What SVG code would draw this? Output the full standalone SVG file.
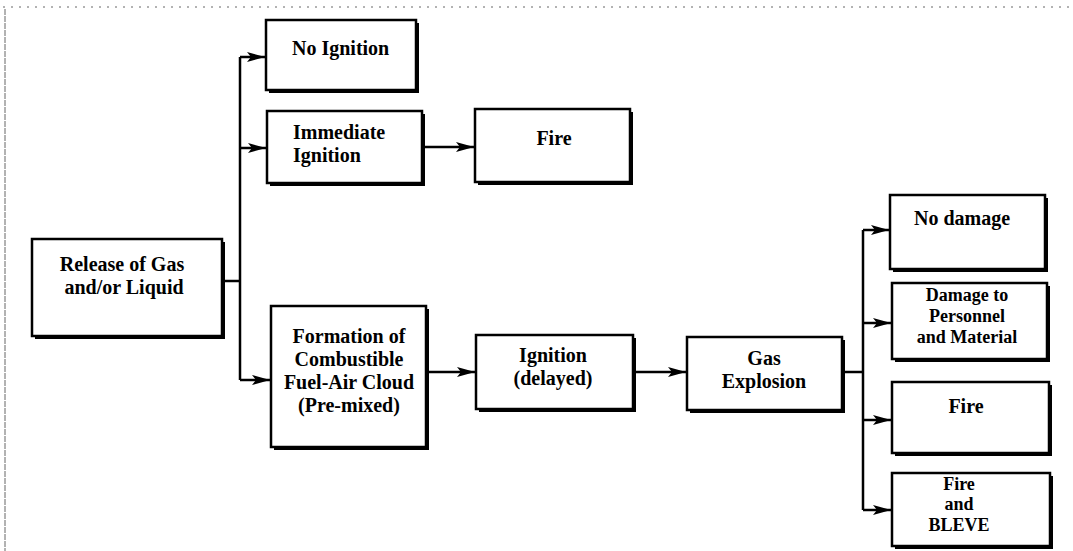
<svg xmlns="http://www.w3.org/2000/svg" width="1073" height="551" viewBox="0 0 1073 551">
<style>
.box{fill:#fff;stroke:#000;stroke-width:2.5}
.sh{fill:#000}
.t{font-family:"Liberation Serif","Times New Roman",serif;font-weight:bold;font-size:20px;fill:#000}
.s{font-size:18px}
.c{text-anchor:middle}
.ln{fill:none;stroke:#000;stroke-width:2.5}
.frame{fill:none;stroke:#666;stroke-width:1}
</style>
<defs>
<marker id="ah" markerUnits="userSpaceOnUse" markerWidth="20" markerHeight="14" refX="18" refY="7" orient="auto">
<path d="M0,2 L18,7 L0,12 L4,7 Z" fill="#000"/>
</marker>
</defs>
<rect width="1073" height="551" fill="#fff"/>
<g id="frame">
<line class="frame" x1="5" y1="9" x2="5" y2="551" stroke-dasharray="6 1"/>
<line class="frame" x1="3" y1="7" x2="1073" y2="7" stroke-dasharray="2 6"/>
</g>
<g id="connectors">
<path class="ln" d="M222,281 H240"/>
<path class="ln" d="M240,57 V380"/>
<path class="ln" d="M240,57 H265" marker-end="url(#ah)"/>
<path class="ln" d="M240,148 H266" marker-end="url(#ah)"/>
<path class="ln" d="M240,380 H270" marker-end="url(#ah)"/>
<path class="ln" d="M422,147 H474" marker-end="url(#ah)"/>
<path class="ln" d="M426,372 H475" marker-end="url(#ah)"/>
<path class="ln" d="M633,372 H686" marker-end="url(#ah)"/>
<path class="ln" d="M842,372 H863"/>
<path class="ln" d="M863,230 V510"/>
<path class="ln" d="M863,230 H889" marker-end="url(#ah)"/>
<path class="ln" d="M863,323 H891" marker-end="url(#ah)"/>
<path class="ln" d="M863,420 H891" marker-end="url(#ah)"/>
<path class="ln" d="M863,510 H891" marker-end="url(#ah)"/>
</g>
<g id="release">
<rect class="sh" x="35" y="242" width="190" height="97"/>
<rect class="box" x="32" y="239" width="190" height="97"/>
<text class="t c" x="122" y="271">Release of Gas</text>
<text class="t c" x="124" y="294">and/or Liquid</text>
</g>
<g id="no-ignition">
<rect class="sh" x="269" y="23" width="150" height="70"/>
<rect class="box" x="266" y="20" width="150" height="70"/>
<text class="t" x="292" y="55">No Ignition</text>
</g>
<g id="immediate-ignition">
<rect class="sh" x="270" y="114" width="155" height="72"/>
<rect class="box" x="267" y="111" width="155" height="72"/>
<text class="t" x="293" y="139">Immediate</text>
<text class="t" x="293" y="162">Ignition</text>
</g>
<g id="fire-top">
<rect class="sh" x="478" y="112" width="155" height="73"/>
<rect class="box" x="475" y="109" width="155" height="73"/>
<text class="t c" x="554" y="145">Fire</text>
</g>
<g id="formation">
<rect class="sh" x="274" y="309" width="155" height="141"/>
<rect class="box" x="271" y="306" width="155" height="141"/>
<text class="t c" x="349" y="343">Formation of</text>
<text class="t c" x="349" y="366">Combustible</text>
<text class="t c" x="349" y="389">Fuel-Air Cloud</text>
<text class="t c" x="349" y="412">(Pre-mixed)</text>
</g>
<g id="ignition-delayed">
<rect class="sh" x="479" y="338" width="157" height="74"/>
<rect class="box" x="476" y="335" width="157" height="74"/>
<text class="t c" x="553" y="362">Ignition</text>
<text class="t c" x="553" y="385">(delayed)</text>
</g>
<g id="gas-explosion">
<rect class="sh" x="690" y="340" width="155" height="73"/>
<rect class="box" x="687" y="337" width="155" height="73"/>
<text class="t c" x="764" y="365">Gas</text>
<text class="t c" x="764" y="388">Explosion</text>
</g>
<g id="no-damage">
<rect class="sh" x="893" y="198" width="155" height="74"/>
<rect class="box" x="890" y="195" width="155" height="74"/>
<text class="t c" x="962" y="225">No damage</text>
</g>
<g id="damage">
<rect class="sh" x="895" y="286" width="155" height="76"/>
<rect class="box" x="892" y="283" width="155" height="76"/>
<text class="t c s" x="967" y="301">Damage to</text>
<text class="t c s" x="967" y="322">Personnel</text>
<text class="t c s" x="967" y="343">and Material</text>
</g>
<g id="fire-right">
<rect class="sh" x="895" y="385" width="157" height="71"/>
<rect class="box" x="892" y="382" width="157" height="71"/>
<text class="t c" x="966" y="413">Fire</text>
</g>
<g id="fire-bleve">
<rect class="sh" x="895" y="476" width="158" height="73"/>
<rect class="box" x="892" y="473" width="158" height="73"/>
<text class="t c s" x="959" y="490">Fire</text>
<text class="t c s" x="959" y="510">and</text>
<text class="t c s" x="959" y="531">BLEVE</text>
</g>
</svg>
